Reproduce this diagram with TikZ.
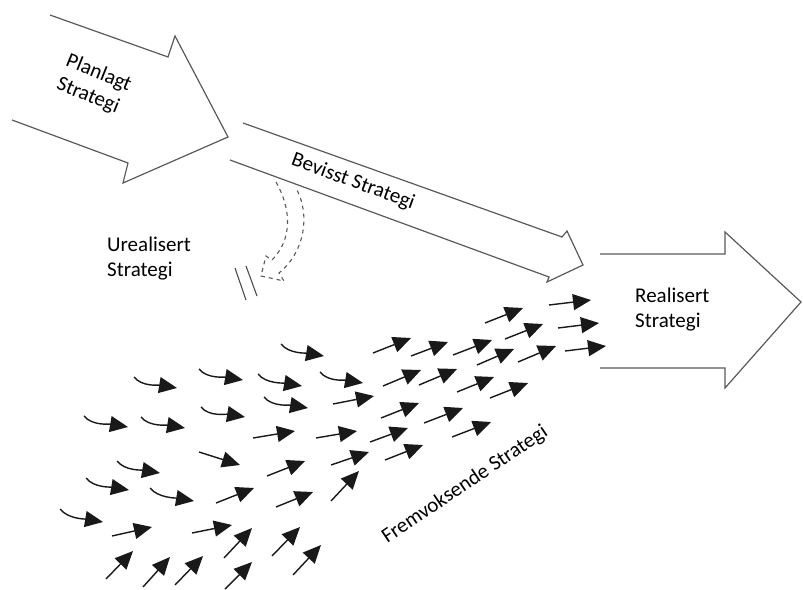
\documentclass[tikz,border=0pt]{standalone}
\usepackage{fontspec}
\setmainfont{Carlito}
\usepackage{tikz}
\usetikzlibrary{arrows.meta}

\begin{document}
\begin{tikzpicture}[x=1pt, y=-1pt,
        bigarrow/.style={draw=black!65, line width=1.2pt, line join=miter},
        ghost/.style={draw=black!65, line width=1.1pt, dash pattern=on 4pt off 4pt},
        smallarrow/.style={-{Triangle[length=18pt, width=16pt]}, line width=1.4pt, black!90},
        label/.style={font=\fontsize{21}{25}\selectfont, align=left, inner sep=0pt}
    ]
    \useasboundingbox (0,0) rectangle (803,589);
    % the three big arrows
    \draw[bigarrow] (50,15) -- (168,57) -- (175,36) -- (228,137) -- (123,183) -- (128,163) -- (12,120);
    \draw[bigarrow] (243,123) -- (562,237) -- (567,231) -- (583,265) -- (547,282) -- (549,277) -- (230,160);
    \draw[bigarrow] (600,254) -- (725,254) -- (725,232) -- (801,302) -- (725,388) -- (725,368) -- (600,368);
    % unrealised, dashed hollow arrow
    \draw[ghost] (276,182) .. controls (292,210) and (292,240) .. (272,260) -- (266,256) -- (261,276)
        -- (284,281) -- (279,273) .. controls (305,252) and (310,215) .. (297,190);
    \draw[draw=black!70, line width=1.1pt] (235,268) -- (246,300) (246,266) -- (257,296);
    \node[label, rotate=-22] (plan) at (94,85) {Planlagt\\Strategi};
    \node[label, rotate=-20] (bevisst) at (353,182) {Bevisst Strategi};
    \node[label, anchor=west] (urealisert) at (107,259) {Urealisert\\Strategi};
    \node[label, anchor=west] (realisert) at (635,310) {Realisert\\Strategi};
    \node[label, rotate=34] (fremvoksende) at (465,485) {Fremvoksende Strategi};
    % emergent arrows, curved ones
    \foreach \tx/\ty/\hx/\hy in {281/344/324/356, 320/372/363/383, 134/377/177/388, 199/369/243/380,
        258/374/302/386, 264/397/308/408, 84/416/128/427, 141/417/185/428, 201/407/245/417,
        117/461/160/473, 86/478/129/490, 150/488/194/501, 60/509/103/522}
        \draw[smallarrow] (\tx,\ty) .. controls +(8,10) and +(-18,-3) .. (\hx,\hy);
    % emergent arrows, straight ones
    \foreach \tx/\ty/\hx/\hy in {253/438/295/431, 316/438/357/431, 199/452/240/465, 267/476/305/461,
        331/465/369/452, 216/503/254/488, 276/507/313/492, 331/501/359/471, 112/536/152/527,
        192/533/232/525, 224/558/252/528, 272/556/300/527, 293/575/321/545, 106/579/133/551,
        143/587/170/557, 175/585/203/556, 225/589/252/562, 373/353/411/338, 411/356/448/342,
        453/355/492/340, 485/323/523/308, 549/305/591/300, 558/328/599/323, 565/351/606/346,
        505/339/543/324, 477/365/514/349, 518/362/556/346, 383/386/421/370, 419/385/457/369,
        457/392/494/377, 490/398/528/383, 333/404/374/396, 381/418/419/403, 424/423/463/408,
        452/437/491/422, 370/442/408/428, 385/460/423/445}
        \draw[smallarrow] (\tx,\ty) -- (\hx,\hy);
\end{tikzpicture}
\end{document}
